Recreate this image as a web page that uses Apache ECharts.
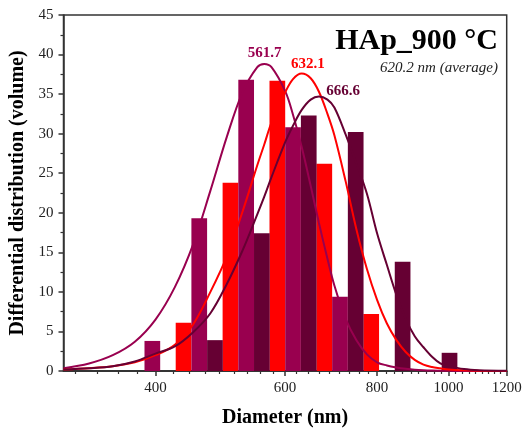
<!DOCTYPE html>
<html>
<head>
<meta charset="utf-8">
<script src="https://cdn.jsdelivr.net/npm/echarts@6/dist/echarts.min.js"></script>
<style>html,body{margin:0;padding:0;background:#fff}#c{width:530px;height:432px}</style>
</head>
<body>
<div id="c"></div>
<script>
// ---- data ----
const binSizes = [396.1, 458.7, 531.2, 615.1, 712.4, 825.0, 955.4];
const barsRed    = [0, 6.1, 23.8, 36.7, 26.2, 7.2, 0];
const barsPurple = [3.8, 19.3, 36.8, 30.8, 9.4, 0, 0];
const barsMaroon = [0, 3.9, 17.4, 32.3, 30.2, 13.8, 2.3];

const curveX = [300, 325, 350, 375, 400, 425, 450, 475, 500, 525, 550, 562, 575, 600, 615, 632, 650, 667, 685, 700, 725, 750, 775, 800, 825, 850, 875, 900, 925, 950, 975, 1000, 1050, 1100, 1200];
const curvePurple = [0.35, 0.95, 2.0, 3.7, 6.5, 10.6, 16.0, 22.8, 29.6, 35.2, 38.4, 38.8, 38.4, 35.4, 32.4, 28.3, 23.4, 18.7, 14.2, 10.8, 6.6, 3.9, 2.1, 1.1, 0.7, 0.45, 0.28, 0.16, 0.09, 0.05, 0.03, 0.02, 0.01, 0, 0];
const curveRed    = [0.2, 0.35, 0.6, 1.1, 2.0, 3.3, 5.9, 10.0, 14.5, 20.1, 26.0, 28.6, 31.4, 35.2, 36.9, 37.6, 37.0, 35.3, 32.5, 29.8, 24.0, 17.9, 12.9, 9.0, 6.0, 3.9, 2.4, 1.4, 0.8, 0.5, 0.34, 0.2, 0.08, 0.03, 0];
const curveMaroon = [0.2, 0.35, 0.6, 1.2, 2.2, 3.1, 4.9, 7.3, 11.0, 15.2, 19.8, 22.0, 24.5, 28.9, 31.0, 33.0, 34.3, 34.7, 34.3, 33.3, 29.9, 26.2, 22.4, 17.4, 13.4, 9.6, 6.6, 4.4, 3.0, 1.8, 0.97, 0.65, 0.25, 0.1, 0.02];

const peakLabels = ['561.7', '632.1', '666.6'];
const xMajorTicks = [400, 600, 800, 1000, 1200];
const xAxisMin = 300, xAxisMax = 1200;
const titleText = 'HAp_900 °C';
const subtitleText = '620.2 nm (average)';

// minor ticks: 8 between consecutive majors (step 200/9), also below 400
const xMinorTicks = [];
const minorStep = 200 / 9;
for (let v = 400 - minorStep; v > xAxisMin; v -= minorStep) xMinorTicks.push(v);
for (let i = 0; i < xMajorTicks.length - 1; i++) {
  for (let k = 1; k < 9; k++) xMinorTicks.push(xMajorTicks[i] + k * minorStep);
}

const C_RED = '#ff0000', C_PURPLE = '#99004f', C_MAROON = '#660033';
const FONT = "'Liberation Serif', 'Times New Roman', serif";

const pairs = (xs, ys) => xs.map((x, i) => [x, ys[i]]);

function barSeries(name, vals, color) {
  return {
    name, type: 'bar', xAxisIndex: 0, barWidth: 15.7, barGap: '0%',
    data: pairs(binSizes, vals), itemStyle: { color }, z: 2
  };
}
function lineSeries(name, vals, color, label, coord) {
  return {
    name, type: 'line', xAxisIndex: 0, data: pairs(curveX, vals), smooth: 0.35,
    symbol: 'none', lineStyle: { color, width: 2 }, z: 3,
    markPoint: {
      symbol: 'rect', symbolSize: 1, itemStyle: { color: 'transparent' },
      data: [{ coord, value: label }],
      label: { show: true, position: 'inside', formatter: label, color, fontFamily: FONT, fontWeight: 'bold', fontSize: 15 }
    }
  };
}

const chart = echarts.init(document.getElementById('c'));
chart.setOption({
  animation: false,
  grid: { left: 63.5, right: 23.3, top: 15, bottom: 61, containLabel: false, outerBoundsMode: 'none',
          show: true, borderColor: '#333', borderWidth: 1.5, backgroundColor: 'transparent' },
  xAxis: [{
    type: 'log', logBase: 10, min: xAxisMin, max: xAxisMax, position: 'bottom',
    axisLine: { show: true, lineStyle: { color: '#333', width: 1.5 } },
    axisTick: { show: true, inside: false, length: 5, customValues: xMajorTicks, lineStyle: { color: '#333', width: 1.5 } },
    axisLabel: { show: true, customValues: xMajorTicks, formatter: v => String(Math.round(v)), color: '#222', fontFamily: FONT, fontSize: 15, margin: 10 },
    splitLine: { show: false }, minorTick: { show: false },
    name: 'Diameter (nm)', nameLocation: 'middle', nameGap: 37,
    nameTextStyle: { color: '#000', fontFamily: FONT, fontWeight: 'bold', fontSize: 20 }
  }, {
    show: true, type: 'log', logBase: 10, min: xAxisMin, max: xAxisMax, position: 'bottom', offset: 0,
    axisLine: { show: true, onZero: false, lineStyle: { color: '#333', width: 1.5 } },
    axisTick: { show: true, inside: false, length: 3, customValues: xMinorTicks, lineStyle: { color: '#333', width: 1.2 } },
    axisLabel: { show: false, customValues: xMinorTicks }, splitLine: { show: false }
  }],
  yAxis: {
    type: 'value', min: 0, max: 45, interval: 5,
    axisLine: { show: true, lineStyle: { color: '#333', width: 1.5 } },
    axisTick: { show: true, inside: false, length: 5, lineStyle: { color: '#333', width: 1.5 } },
    minorTick: { show: true, splitNumber: 2, length: 3, lineStyle: { color: '#333', width: 1.2 } },
    splitLine: { show: false },
    axisLabel: { color: '#222', fontFamily: FONT, fontSize: 15, margin: 10 },
    name: 'Differential distribution (volume)', nameLocation: 'middle', nameGap: 30, nameRotate: 90,
    nameTextStyle: { color: '#000', fontFamily: FONT, fontWeight: 'bold', fontSize: 20 }
  },
  series: [
    barSeries('Red bars', barsRed, C_RED),
    barSeries('Purple bars', barsPurple, C_PURPLE),
    barSeries('Maroon bars', barsMaroon, C_MAROON),
    lineSeries('Purple fit', curvePurple, C_PURPLE, peakLabels[0], [562.7, 40.2]),
    lineSeries('Red fit', curveRed, C_RED, peakLabels[1], [644.5, 38.8]),
    lineSeries('Maroon fit', curveMaroon, C_MAROON, peakLabels[2], [719.3, 35.4])
  ],
  graphic: [
    { type: 'text', x: 498, y: 41.5, style: { text: titleText, fill: '#000', font: 'bold 30px ' + FONT, align: 'right', verticalAlign: 'middle' } },
    { type: 'text', x: 498, y: 68, style: { text: subtitleText, fill: '#222', font: 'italic 15px ' + FONT, align: 'right', verticalAlign: 'middle' } }
  ]
});
</script>
</body>
</html>
